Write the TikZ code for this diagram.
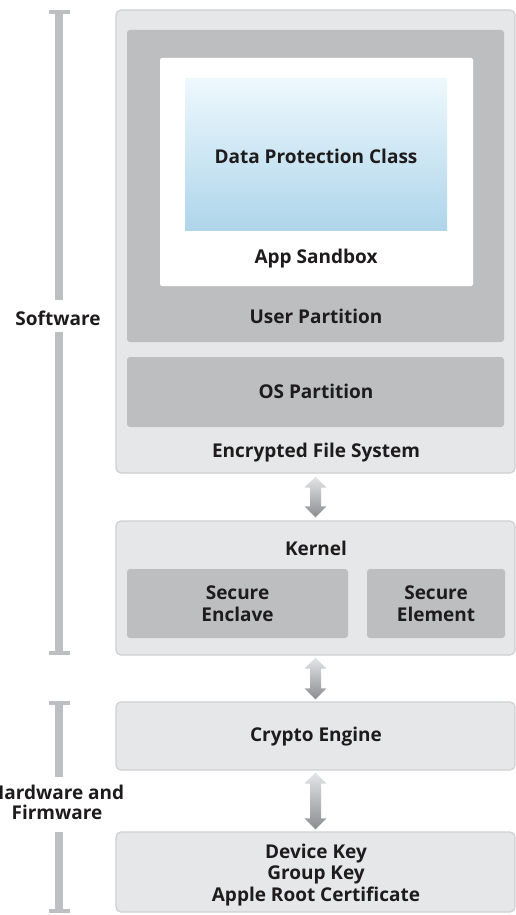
\documentclass[tikz,border=0pt]{standalone}
\usepackage{fontspec}
\setmainfont{Open Sans}
\usepackage{tikz}
\usetikzlibrary{calc}
\usetikzlibrary{arrows.meta}
\usetikzlibrary{positioning}

\definecolor{boxlight}{RGB}{230,231,232}
\definecolor{boxedge}{RGB}{206,207,209}
\definecolor{boxdark}{RGB}{188,190,192}
\definecolor{bargray}{RGB}{190,191,194}
\definecolor{skytop}{RGB}{237,248,253}
\definecolor{skybot}{RGB}{174,213,234}
\definecolor{arrtop}{RGB}{228,229,231}
\definecolor{arrbot}{RGB}{140,141,144}
\definecolor{ink}{RGB}{30,27,28}

% fat shaded double arrow between two named points
\newcommand{\dblarrow}[2]{%
  \shade[top color=arrtop, bottom color=arrbot]
    (#1) -- ($(#1)+(11,11)$) -- ($(#1)+(5.5,11)$) -- ($(#2)+(5.5,-11)$)
    -- ($(#2)+(11,-11)$) -- (#2) -- ($(#2)+(-11,-11)$) -- ($(#2)+(-5.5,-11)$)
    -- ($(#1)+(-5.5,11)$) -- ($(#1)+(-11,11)$) -- cycle;}

\tikzset{
  outerbox/.style={draw=boxedge, line width=1.2pt, fill=boxlight, rounded corners=5pt, inner sep=0pt, minimum width=399pt},
  innerbox/.style={fill=boxdark, rounded corners=3pt, inner sep=0pt},
  lbl/.style={text=ink, font=\fontsize{19}{21.8}\selectfont\bfseries, align=center, inner sep=0pt},
  bar/.style={draw=bargray, line width=7.5pt},
  barcap/.style={draw=bargray, line width=4.5pt},
}

\begin{document}
\begin{tikzpicture}[x=1pt, y=-1pt]
	\useasboundingbox (0,0) rectangle (516,915);
	
	% software side
	\node[outerbox, minimum height=463pt] (efs) at (315.5,241.5) {};
	\node[innerbox, minimum width=377pt, minimum height=312pt] (user) at (315.5,186) {};
	\node[fill=white, rounded corners=2pt, inner sep=0pt, minimum width=313pt, minimum height=228pt] (sandbox) at (316.5,172) {};
	\node[top color=skytop, bottom color=skybot, inner sep=0pt, minimum width=262pt, minimum height=151pt] (dpc) at (316,154.5) {};
	\node[innerbox, minimum width=377pt, minimum height=70pt] (os) at (315.5,392) {};
	
	\node[lbl] (dpclbl) at (316,156) {Data Protection Class};
	\node[lbl] (sandboxlbl) at (316,259) {App Sandbox};
	\node[lbl] (userlbl) at (316,316) {User Partition};
	\node[lbl] (oslbl) at (316,391) {OS Partition};
	\node[lbl] (efslbl) at (316,453) {Encrypted File System};
	
	% kernel
	\node[outerbox, minimum height=134pt] (kernel) at (315.5,588) {};
	\node[innerbox, minimum width=221pt, minimum height=69pt] (enclave) at (237.5,603.5) {};
	\node[innerbox, minimum width=138pt, minimum height=69pt] (element) at (436,603.5) {};
	\node[lbl] (kernellbl) at (316,548) {Kernel};
	\node[lbl] (enclavelbl) at (237.5,604) {Secure\\Enclave};
	\node[lbl] (elementlbl) at (436,604) {Secure\\Element};
	
	% hardware side
	\node[outerbox, minimum height=68pt] (crypto) at (315.5,736) {};
	\node[outerbox, minimum height=80pt] (keys) at (315.5,872) {};
	\node[lbl] (cryptolbl) at (316,737) {Crypto Engine};
	\node[lbl] (keyslbl) at (316,875) {Device Key\\Group Key\\Apple Root Certificate};
	
	\coordinate (a1) at ($(efs.south)+(0,3)$);
	\coordinate (b1) at ($(kernel.north)+(0,-3)$);
	\coordinate (a2) at ($(kernel.south)+(0,2)$);
	\coordinate (b2) at ($(crypto.north)+(0,-2)$);
	\coordinate (a3) at ($(crypto.south)+(0,2)$);
	\coordinate (b3) at ($(keys.north)+(0,-2)$);
	\dblarrow{a1}{b1}
	\dblarrow{a2}{b2}
	\dblarrow{a3}{b3}
	
	% brackets
	\node[lbl] (swlbl) at (58,318) {Software};
	\node[lbl, font=\fontsize{19}{20}\selectfont\bfseries] (hwlbl) at (57,802) {Hardware and\\Firmware};
	\coordinate (swtop) at (59,12);
	\coordinate (swgap1) at (59,300);
	\coordinate (swgap2) at (59,332);
	\coordinate (swbot) at (59,653);
	\coordinate (hwtop) at (59,703);
	\coordinate (hwgap1) at (59,777);
	\coordinate (hwgap2) at (59,832);
	\coordinate (hwbot) at (59,911);
	\draw[bar] (swtop) -- (swgap1);
	\draw[bar] (swgap2) -- (swbot);
	\draw[bar] (hwtop) -- (hwgap1);
	\draw[bar] (hwgap2) -- (hwbot);
	\foreach \c in {swtop,swbot,hwtop,hwbot} {
		\draw[barcap] ($(\c)+(-10.5,0)$) -- ($(\c)+(10.5,0)$);
	}
\end{tikzpicture}
\end{document}
